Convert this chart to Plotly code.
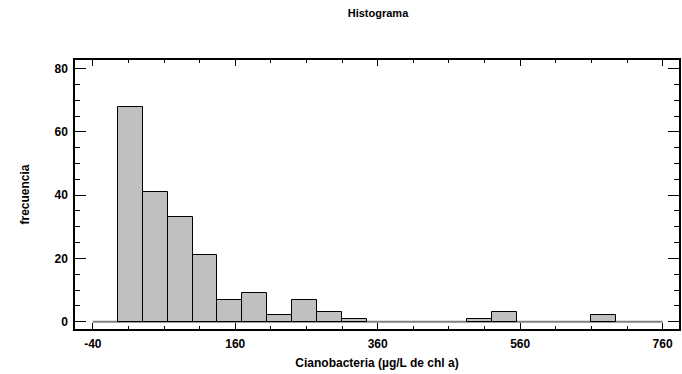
import plotly.graph_objects as go

# Data
bin_start = -5
bin_width = 35
counts = [68, 41, 33, 21, 7, 9, 2, 7, 3, 1, 0, 0, 0, 0, 1, 3, 0, 0, 0, 2]
x_ticks = [-40, 160, 360, 560, 760]
y_ticks = [0, 20, 40, 60, 80]

centers = [bin_start + bin_width * (i + 0.5) for i in range(len(counts))]
outline = ["#000000" if c > 0 else "rgba(0,0,0,0)" for c in counts]

font_family = "Liberation Sans, Arial, sans-serif"

W, H = 682, 374
L, R, T, B = 75, 1, 60, 45
fig = go.Figure()
fig.add_trace(go.Bar(
    x=centers, y=counts, width=bin_width,
    marker=dict(color="#c0c0c0", line=dict(color=outline, width=1)),
    showlegend=False,
))

# baseline along the tick range
fig.add_shape(type="line", xref="x", yref="y",
              x0=x_ticks[0], x1=x_ticks[-1], y0=0, y1=0,
              line=dict(color="#808080", width=2), layer="below")

fig.update_layout(
    width=W, height=H,
    margin=dict(l=L, r=R, t=T, b=B),
    plot_bgcolor="white", paper_bgcolor="white",
    bargap=0,
    font=dict(family=font_family, size=12, color="black"),
    title=dict(text="<b>Histograma</b>", x=(L + W - R) / 2 / W, xanchor="center",
               y=1 - 13 / H, yanchor="middle",
               font=dict(size=11, family=font_family, color="black")),
)

fig.update_xaxes(
    range=[-65, 783],
    tickmode="array", tickvals=x_ticks, ticktext=[f"<b>{v}</b>" for v in x_ticks],
    ticks="inside", ticklen=6, tickwidth=1, tickcolor="black",
    minor=dict(dtick=50, tick0=-40, ticks="inside", ticklen=3, tickcolor="black", tickwidth=1),
    showline=True, linecolor="black", linewidth=1.5, mirror="allticks",
    showgrid=False, zeroline=False, ticklabelstandoff=3,
    title=dict(text="<b>Cianobacteria (µg/L de chl a)</b>", standoff=8,
               font=dict(size=12, family=font_family)),
    tickfont=dict(size=12, family=font_family),
)
fig.update_yaxes(
    range=[-2.3, 82.7],
    tickmode="array", tickvals=y_ticks, ticktext=[f"<b>{v}</b>" for v in y_ticks],
    ticks="inside", ticklen=11, tickwidth=1, tickcolor="black",
    minor=dict(dtick=5, tick0=0, ticks="inside", ticklen=5, tickcolor="black", tickwidth=1),
    showline=True, linecolor="black", linewidth=1.5, mirror="allticks",
    showgrid=False, zeroline=False, ticklabelstandoff=3,
    title=dict(text="<b>frecuencia</b>", standoff=22,
               font=dict(size=12, family=font_family)),
    tickfont=dict(size=12, family=font_family),
)

fig.write_html("out.html", config={"displayModeBar": False},
               post_script="document.body.style.margin='0';document.body.style.overflow='hidden';")
